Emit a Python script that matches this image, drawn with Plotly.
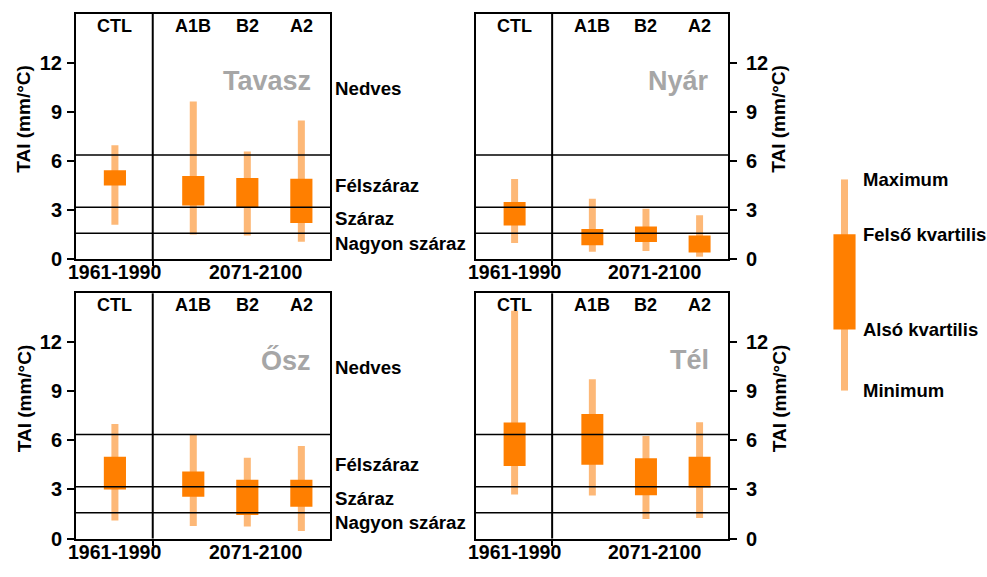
import plotly.graph_objects as go

W, H = 987, 577

# ---------------- data ----------------
scenarios = ["CTL", "A1B", "B2", "A2"]
x_pos = [0.0, 1.45, 2.45, 3.45]
divider_x = 0.70
x_range = [-0.72, 3.98]
periods = ["1961-1990", "2071-2100"]
period_x = [0.0, 2.6]
seasons = ["Tavasz", "Nyár", "Ősz", "Tél"]

tavasz_min = [2.10, 1.50, 1.44, 1.06]
tavasz_q1 = [4.50, 3.27, 3.15, 2.20]
tavasz_q3 = [5.42, 5.08, 4.95, 4.91]
tavasz_max = [6.95, 9.63, 6.58, 8.47]

nyar_min = [0.98, 0.44, 0.48, 0.14]
nyar_q1 = [2.04, 0.84, 1.04, 0.40]
nyar_q3 = [3.49, 1.84, 1.99, 1.44]
nyar_max = [4.89, 3.69, 3.07, 2.68]

osz_min = [1.10, 0.76, 0.74, 0.46]
osz_q1 = [3.00, 2.56, 1.44, 1.94]
osz_q3 = [5.00, 4.10, 3.60, 3.60]
osz_max = [7.00, 6.40, 4.94, 5.66]

tel_min = [2.69, 2.63, 1.19, 1.25]
tel_q1 = [4.44, 4.52, 2.65, 3.12]
tel_q3 = [7.10, 7.62, 4.91, 5.01]
tel_max = [13.93, 9.75, 6.27, 7.12]

class_bounds = [1.57, 3.17, 6.36]
class_labels = ["Nagyon száraz", "Száraz", "Félszáraz", "Nedves"]
class_label_y = [0.95, 2.45, 4.5, 10.45]
y_ticks = [0, 3, 6, 9, 12]
y_max = 15

legend_vals = [0.0, 0.29, 0.74, 1.0]  # min, lower quartile, upper quartile, max
legend_labels = ["Minimum", "Alsó kvartilis", "Felső kvartilis", "Maximum"]

# ---------------- style ----------------
LIGHT = "#FDB877"
DARK = "#FF7F00"
GREY = "#A6A6A6"
FONT = "Liberation Sans, Arial, sans-serif"
BOX_W = 0.41
WHISK_W = 0.13


def px_x(p):
    return p / W


def px_y(p):
    return 1 - p / H


panel_x = {"L": [px_x(76), px_x(330)], "R": [px_x(476), px_x(728)]}
panel_y = {"T": [px_y(264), px_y(14)], "B": [px_y(549), px_y(299)]}

panels = [
    ("", "L", "T", tavasz_min, tavasz_q1, tavasz_q3, tavasz_max, seasons[0]),
    ("2", "R", "T", nyar_min, nyar_q1, nyar_q3, nyar_max, seasons[1]),
    ("3", "L", "B", osz_min, osz_q1, osz_q3, osz_max, seasons[2]),
    ("4", "R", "B", tel_min, tel_q1, tel_q3, tel_max, seasons[3]),
]

fig = go.Figure()
annotations = []
shapes = []
layout = {}

for sfx, side, row, mn, q1, q3, mx, title in panels:
    xa, ya = "x" + sfx, "y" + sfx
    fig.add_trace(go.Bar(x=x_pos, y=[b - a for a, b in zip(mn, mx)], base=mn,
                         width=WHISK_W, marker=dict(color=LIGHT, line=dict(width=0)),
                         xaxis=xa, yaxis=ya, showlegend=False, hoverinfo="skip"))
    fig.add_trace(go.Bar(x=x_pos, y=[b - a for a, b in zip(q1, q3)], base=q1,
                         width=BOX_W, marker=dict(color=DARK, line=dict(width=0)),
                         xaxis=xa, yaxis=ya, showlegend=False, hoverinfo="skip"))

    layout["xaxis" + sfx] = dict(
        domain=panel_x[side], range=x_range, anchor=ya,
        showgrid=False, zeroline=False, showline=True, linecolor="black",
        linewidth=2, mirror=True, tickvals=[divider_x], ticks="outside",
        ticklen=5, tickwidth=2, tickcolor="black", showticklabels=False,
    )
    layout["yaxis" + sfx] = dict(
        domain=panel_y[row], range=[0, y_max], anchor=xa,
        side="left" if side == "L" else "right",
        showgrid=False, zeroline=False, showline=True, linecolor="black",
        linewidth=2, mirror=True, tickvals=y_ticks, ticks="outside",
        ticklen=7, tickwidth=2, tickcolor="black",
        ticklabelstandoff=1 if side == "L" else 5,
        tickfont=dict(family=FONT, size=20, color="black", weight="bold"),
    )

    # class boundary lines
    for b in class_bounds:
        shapes.append(dict(type="line", xref=xa + " domain", yref=ya,
                           x0=0, x1=1, y0=b, y1=b,
                           line=dict(color="black", width=1.5)))
    # divider between control and scenario periods
    shapes.append(dict(type="line", xref=xa, yref=ya + " domain",
                       x0=divider_x, x1=divider_x, y0=0, y1=1,
                       line=dict(color="black", width=2)))

    # scenario headers
    for s, xp in zip(scenarios, x_pos):
        annotations.append(dict(text=s, xref=xa, yref=ya + " domain",
                                x=xp, y=0.952, xanchor="center", yanchor="middle",
                                showarrow=False,
                                font=dict(family=FONT, size=18, color="black", weight="bold")))
    # period labels
    for p, xp in zip(periods, period_x):
        annotations.append(dict(text=p, xref=xa, yref=ya + " domain",
                                x=xp, y=0, xanchor="center", yanchor="top",
                                showarrow=False,
                                font=dict(family=FONT, size=19.5, color="black", weight="bold")))
    # season title
    annotations.append(dict(text=title, xref=xa + " domain", yref=ya + " domain",
                            x=0.933, y=0.727, xanchor="right", yanchor="middle",
                            showarrow=False,
                            font=dict(family=FONT, size=27, color=GREY, weight="bold")))
    # y axis title
    ycen = 121 if row == "T" else 406
    xcen = 24 if side == "L" else 779
    annotations.append(dict(text="TAI (mm/°C)", xref="paper", yref="paper",
                            x=px_x(xcen), y=px_y(ycen), xanchor="center", yanchor="middle",
                            textangle=-90, showarrow=False,
                            font=dict(family=FONT, size=19, color="black", weight="bold")))
    # class labels between the panels
    if side == "L":
        for lab, ly in zip(class_labels, class_label_y):
            annotations.append(dict(text=lab, xref="paper", yref=ya,
                                    x=px_x(333), y=ly, xanchor="left", yanchor="middle",
                                    showarrow=False,
                                    font=dict(family=FONT, size=18.7, color="black", weight="bold")))

# ---------------- key (legend) ----------------
fig.add_trace(go.Bar(x=[0], y=[legend_vals[3] - legend_vals[0]], base=[legend_vals[0]],
                     width=WHISK_W, marker=dict(color=LIGHT, line=dict(width=0)),
                     xaxis="x5", yaxis="y5", showlegend=False, hoverinfo="skip"))
fig.add_trace(go.Bar(x=[0], y=[legend_vals[2] - legend_vals[1]], base=[legend_vals[1]],
                     width=BOX_W, marker=dict(color=DARK, line=dict(width=0)),
                     xaxis="x5", yaxis="y5", showlegend=False, hoverinfo="skip"))
layout["xaxis5"] = dict(domain=[px_x(817.5), px_x(871.5)], range=[-0.5, 0.5], anchor="y5",
                        visible=False, fixedrange=True)
layout["yaxis5"] = dict(domain=[px_y(398.3), px_y(182.7)], range=[0, 1], anchor="x5",
                        visible=False, fixedrange=True)
for lab, v in zip(legend_labels, legend_vals):
    annotations.append(dict(text=lab, xref="paper", yref="y5",
                            x=px_x(861), y=v, xanchor="left", yanchor="middle",
                            showarrow=False,
                            font=dict(family=FONT, size=18.5, color="black", weight="bold")))

fig.update_layout(
    width=W, height=H,
    margin=dict(l=0, r=0, t=0, b=0),
    paper_bgcolor="white", plot_bgcolor="white",
    barmode="overlay",
    showlegend=False,
    annotations=annotations,
    shapes=shapes,
    **layout,
)

fig.write_html("out.html",
               config={"displayModeBar": False},
               post_script="document.body.style.margin='0';document.body.style.overflow='hidden';")
